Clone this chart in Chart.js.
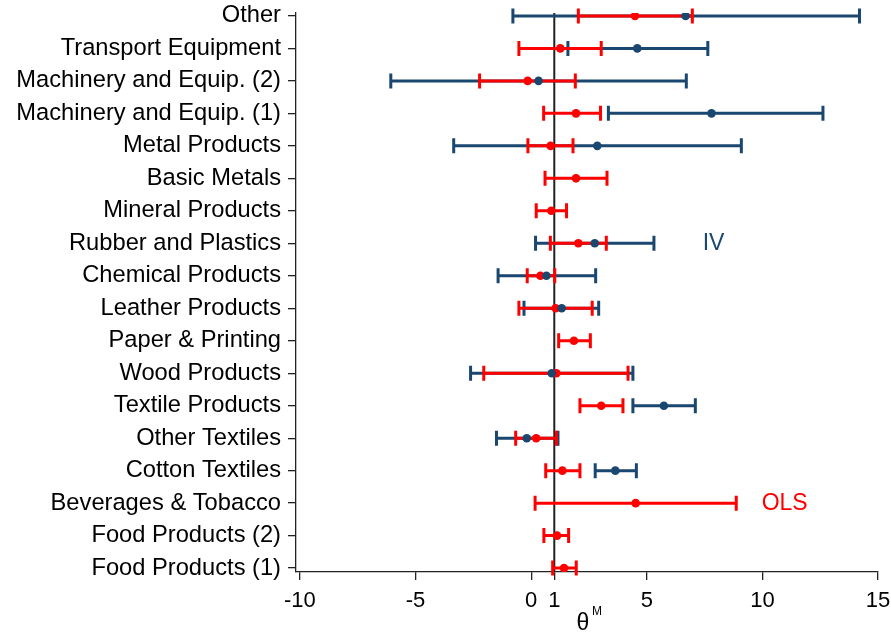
<!DOCTYPE html>
<html>
<head>
<meta charset="utf-8">
<script src="https://cdn.jsdelivr.net/npm/chart.js@4.4.0/dist/chart.umd.min.js"></script>
<style>
  html, body { margin: 0; padding: 0; background: #fff; }
  #wrap { width: 891px; height: 635px; }
</style>
</head>
<body>
<div id="wrap"><canvas id="chart" width="891" height="635"></canvas></div>
<script>
// Sectors, top to bottom as in the figure
const categories = [
  "Other", "Transport Equipment", "Machinery and Equip. (2)", "Machinery and Equip. (1)",
  "Metal Products", "Basic Metals", "Mineral Products", "Rubber and Plastics",
  "Chemical Products", "Leather Products", "Paper & Printing", "Wood Products",
  "Textile Products", "Other Textiles", "Cotton Textiles", "Beverages & Tobacco",
  "Food Products (2)", "Food Products (1)"
];

// IV estimates and 95% bounds (null = not estimated)
const ivEst = [6.68, 4.59, 0.32, 7.80, 2.86, null, null, 2.75, 0.66, 1.32, null, 0.89, 5.74, -0.19, 3.64, null, null, null];
const ivLo  = [-0.79, 1.59, -6.07, 3.34, -3.35, null, null, 0.19, -1.43, -0.31, null, -2.62, 4.40, -1.50, 2.77, null, null, null];
const ivHi  = [14.20, 7.64, 6.71, 12.62, 9.09, null, null, 5.31, 2.79, 2.92, null, 4.40, 7.10, 1.16, 4.55, null, null, null];

// OLS estimates and bounds
const olsEst = [4.49, 1.26, -0.15, 1.94, 0.84, 1.94, 0.87, 2.04, 0.40, 1.06, 1.85, 1.09, 3.03, 0.22, 1.35, 4.52, 1.12, 1.42];
const olsLo  = [2.04, -0.53, -2.23, 0.54, -0.14, 0.60, 0.22, 0.83, -0.17, -0.53, 1.19, -2.05, 2.11, -0.67, 0.63, 0.17, 0.55, 0.93];
const olsHi  = [6.97, 3.03, 1.91, 3.00, 1.81, 3.28, 1.53, 3.25, 1.02, 2.64, 2.56, 4.19, 3.97, 1.09, 2.11, 8.87, 1.62, 1.95];

const xTicks = [-10, -5, 0, 1, 5, 10, 15];
const refLine = 1;

const NAVY = "#1a476f";
const RED = "#ff0000";
const FONT = "'Liberation Sans', Arial, sans-serif";

const n = categories.length;
const rowY = i => n - i;   // top row gets the highest value

function points(est) {
  return est.map((v, i) => v === null ? null : { x: v, y: rowY(i) }).filter(p => p);
}

// draws reference line and the interval bars through the chart's scales
const intervals = {
  id: "intervals",
  beforeDatasetsDraw(chart) {
    const { ctx, scales: { x, y }, chartArea } = chart;
    ctx.save();
    // reference line at theta = 1
    ctx.strokeStyle = "#222";
    ctx.lineWidth = 2;
    ctx.beginPath();
    ctx.moveTo(x.getPixelForValue(refLine), chartArea.top);
    ctx.lineTo(x.getPixelForValue(refLine), chartArea.bottom);
    ctx.stroke();

    const bars = (lo, hi, color) => {
      ctx.strokeStyle = color;
      ctx.lineWidth = 3;
      ctx.lineCap = "butt";
      lo.forEach((l, i) => {
        if (l === null) return;
        const py = y.getPixelForValue(rowY(i));
        const x1 = x.getPixelForValue(l), x2 = x.getPixelForValue(hi[i]);
        ctx.beginPath();
        ctx.moveTo(x1, py); ctx.lineTo(x2, py);
        ctx.moveTo(x1, py - 7.5); ctx.lineTo(x1, py + 7.5);
        ctx.moveTo(x2, py - 7.5); ctx.lineTo(x2, py + 7.5);
        ctx.stroke();
      });
    };
    bars(ivLo, ivHi, NAVY);
    bars(olsLo, olsHi, RED);
    ctx.restore();
  },
  afterDraw(chart) {
    const { ctx, scales: { x, y } } = chart;
    ctx.save();
    ctx.textBaseline = "middle";
    ctx.textAlign = "left";
    ctx.font = "23px " + FONT;
    ctx.fillStyle = NAVY;
    ctx.fillText("IV", x.getPixelForValue(7.42), y.getPixelForValue(rowY(7)));
    ctx.fillStyle = RED;
    ctx.fillText("OLS", x.getPixelForValue(9.97), y.getPixelForValue(rowY(15)) + 1);
    // axis title theta^M
    ctx.fillStyle = "#000";
    ctx.textAlign = "center";
    ctx.font = "23px " + FONT;
    ctx.fillText("θ", 583, 624);
    ctx.font = "12px " + FONT;
    ctx.fillText("M", 597, 612);
    ctx.restore();
  }
};

function noOverflow(s) {
  s.paddingLeft = 0; s.paddingRight = 0; s.paddingTop = 0; s.paddingBottom = 0;
}

new Chart(document.getElementById("chart"), {
  type: "scatter",
  data: {
    datasets: [
      { label: "IV", data: points(ivEst), backgroundColor: NAVY, borderColor: NAVY, pointRadius: 4.3, borderWidth: 0 },
      { label: "OLS", data: points(olsEst), backgroundColor: RED, borderColor: RED, pointRadius: 4.3, borderWidth: 0 }
    ]
  },
  options: {
    responsive: false,
    animation: false,
    layout: { padding: { top: 13, right: 13, left: 0, bottom: 0 } },
    plugins: { legend: { display: false }, tooltip: { enabled: false } },
    scales: {
      x: {
        type: "linear",
        min: -10.17,
        max: 15,
        afterBuildTicks: s => { s.ticks = xTicks.map(v => ({ value: v })); },
        afterFit: s => { s.height = 63; noOverflow(s); },
        grid: { drawOnChartArea: false, tickLength: 8, color: "#222", lineWidth: 1.3 },
        border: { color: "#222", width: 1.3 },
        ticks: { color: "#000", font: { family: FONT, size: 22 }, padding: 8, maxRotation: 0, autoSkip: false }
      },
      y: {
        type: "linear",
        min: 0.88,
        max: n + 0.09,
        afterBuildTicks: s => { s.ticks = categories.map((c, i) => ({ value: rowY(i) })); },
        afterFit: s => { s.width = 296; noOverflow(s); },
        grid: { drawOnChartArea: false, tickLength: 8, color: "#222", lineWidth: 1.3 },
        border: { color: "#222", width: 1.3 },
        ticks: {
          color: "#000",
          font: { family: FONT, size: 23.7 },
          padding: 7,
          autoSkip: false,
          callback: v => categories[n - v]
        }
      }
    }
  },
  plugins: [intervals]
});
</script>
</body>
</html>
